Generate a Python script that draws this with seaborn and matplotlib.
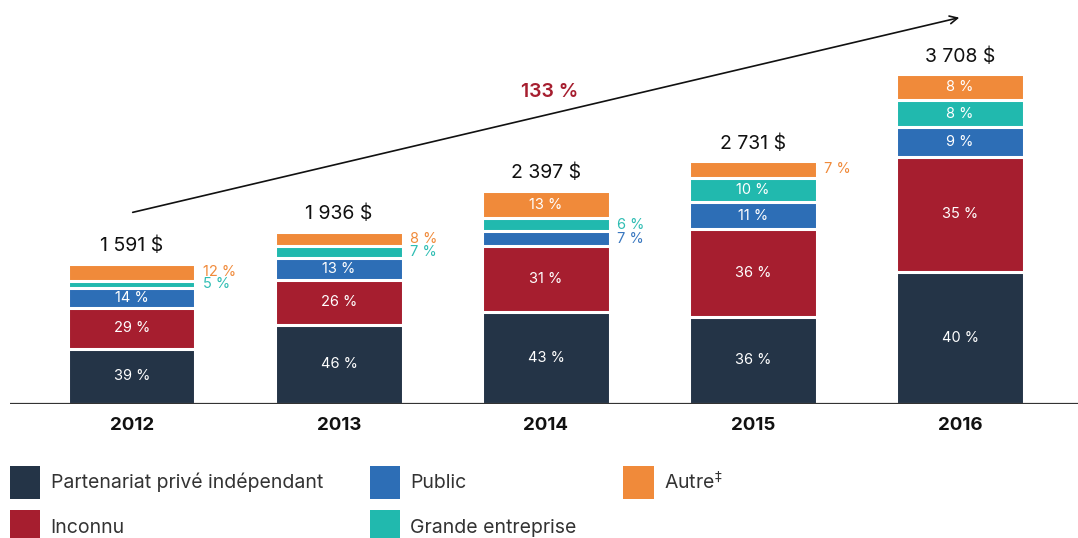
import matplotlib
matplotlib.use('Agg')
import matplotlib.pyplot as plt
import seaborn as sns
import numpy as np
from matplotlib.patches import Patch

# data
years = ['2012', '2013', '2014', '2015', '2016']
totals = [1591, 1936, 2397, 2731, 3708]
total_labels = ['1 591 $', '1 936 $', '2 397 $', '2 731 $', '3 708 $']
categories = ['Partenariat privé indépendant', 'Inconnu', 'Public', 'Grande entreprise', 'Autre$^{‡}$']
pct_prive = [39, 46, 43, 36, 40]
pct_inconnu = [29, 26, 31, 36, 35]
pct_public = [14, 13, 7, 11, 9]
pct_grande = [5, 7, 6, 10, 8]
pct_autre = [12, 8, 13, 7, 8]
growth_label = '133 %'

colors = ['#243447', '#A61E2F', '#2D6EB6', '#21B9AE', '#F08A3A']
text_colors = ['#243447', '#A61E2F', '#3A78C0', '#2FBDB3', '#F08A3A']

sns.set_style('white')
plt.rcParams['font.family'] = ['Inter', 'DejaVu Sans']

fig = plt.figure(figsize=(10.78, 5.38), dpi=100)
W, H = 1078, 538
ax = fig.add_axes([10 / W, 134 / H, 1068 / W, 404 / H])

series = [pct_prive, pct_inconnu, pct_public, pct_grande, pct_autre]
vals = np.array([[t * p / 100 for t, p in zip(totals, s)] for s in series])
cum = np.cumsum(vals, axis=0)

# draw cumulative bars from top to bottom so the white edges separate segments
for i in range(len(series) - 1, -1, -1):
    sns.barplot(x=years, y=cum[i], color=colors[i], width=0.614, edgecolor='white',
                linewidth=2.2, saturation=1, ax=ax, zorder=2)

ax.set_xlim(-0.589, 4.57)
ax.set_ylim(0, 4540)
ax.axhline(0, color='#333333', linewidth=1.6, zorder=5)

for j in range(len(years)):
    for i in range(len(series)):
        bottom = cum[i - 1][j] if i > 0 else 0
        mid = bottom + vals[i][j] / 2
        label = f'{series[i][j]} %'
        if vals[i][j] < 200:
            ax.text(j + 0.307 + 0.035, mid, label, color=text_colors[i], fontsize=10.5,
                    ha='left', va='center')
        else:
            ax.text(j, mid, label, color='white', fontsize=10.5, ha='center', va='center')
    ax.text(j, cum[-1][j] + 95, total_labels[j], color='#111111', fontsize=14,
            ha='center', va='bottom')

ax.set_xlabel('')
ax.set_ylabel('')
ax.set_yticks([])
ax.tick_params(axis='x', length=0, pad=9)
for lab in ax.get_xticklabels():
    lab.set_fontsize(13.5)
    lab.set_fontweight('bold')
    lab.set_color('#111111')
for s in ax.spines.values():
    s.set_visible(False)

# growth arrow
ax.annotate('', xy=(962, H - 17), xytext=(130, H - 213), xycoords='figure pixels',
            textcoords='figure pixels',
            arrowprops=dict(arrowstyle='->', color='#111111', lw=1.2, mutation_scale=14))
fig.text(550 / W, (H - 92) / H, growth_label, color='#A61E2F', fontsize=14,
         fontweight='semibold', ha='center', va='center')

handles = [Patch(facecolor=c, edgecolor='none') for c in colors]
fig.legend(handles, categories, loc='upper left', bbox_to_anchor=(4 / W, 78 / H),
           ncol=3, frameon=False, fontsize=14, handlelength=1.55, handleheight=2.25,
           handletextpad=0.55, columnspacing=2.4, labelspacing=0.58, labelcolor='#333333',
           borderaxespad=0, borderpad=0.3)

fig.savefig('out.png', dpi=100)
